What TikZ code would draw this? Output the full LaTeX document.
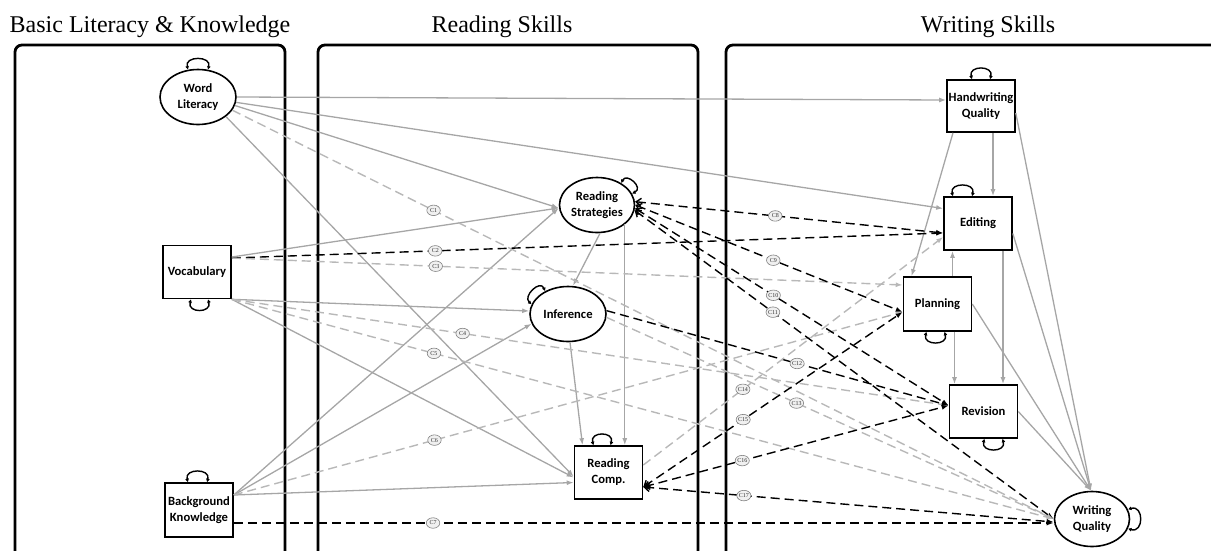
\documentclass[tikz,border=0pt]{standalone}
\usepackage{fontspec}
\setmainfont{Liberation Serif}
\newfontfamily\boxfont{Carlito}
\usetikzlibrary{arrows.meta,shapes.geometric}

\definecolor{pathgray}{RGB}{166,166,166}
\definecolor{dashgray}{RGB}{184,184,184}
\definecolor{tagfill}{RGB}{240,240,240}
\definecolor{tagdraw}{RGB}{130,130,130}

\begin{document}
\begin{tikzpicture}[x=1pt,y=-1pt,
  panel/.style={line width=2.8pt, rounded corners=7pt},
  heading/.style={font=\fontsize{24}{28}\selectfont, anchor=base, inner sep=0pt},
  varbox/.style={draw, line width=1.6pt, fill=white, rectangle, inner sep=0pt, align=center,
    font=\boxfont\bfseries\fontsize{12.6}{16}\selectfont},
  latent/.style={varbox, ellipse, minimum width=76pt, minimum height=55pt},
  observed/.style={varbox, minimum width=68pt, minimum height=53pt},
  effect/.style={draw=pathgray, line width=1.3pt, -{Latex[length=7pt,width=5pt]}},
  weakcov/.style={draw=dashgray, line width=1.4pt, dash pattern=on 9pt off 5pt, -{Latex[length=7pt,width=5pt]}},
  strongcov/.style={draw=black, line width=1.4pt, dash pattern=on 9pt off 5pt, -{Latex[length=7pt,width=5pt]}},
  twoway/.style={strongcov, {Straight Barb[length=5pt,width=8pt]}-{Latex[length=7pt,width=5pt]}},
  selfloop/.style={line width=1.4pt, {Latex[length=3.5pt,width=4pt]}-{Latex[length=3.5pt,width=4pt]}},
  tag/.style={ellipse, draw=tagdraw, fill=tagfill, line width=0.6pt, inner sep=0pt,
    minimum width=13.5pt, minimum height=10.5pt, font=\fontsize{6}{6}\selectfont, text=black!80}
]
\useasboundingbox (0,0) rectangle (1211,550);
\clip (0,0) rectangle (1211,550);

% group frames (open at the bottom)
\draw[panel] (15,556) -- (15,45) -- (285,45) -- (285,556);
\draw[panel] (318,556) -- (318,45) -- (698,45) -- (698,556);
\draw[panel] (726,556) -- (726,45) -- (1220,45);

\node[heading] (t1) at (150,32) {Basic Literacy \& Knowledge};
\node[heading] (t2) at (502,32) {Reading Skills};
\node[heading] (t3) at (988,32) {Writing Skills};

% variables
\node[latent] (wl) at (198,97) {Word\\Literacy};
\node[observed] (voc) at (197,272) {Vocabulary};
\node[observed, minimum height=54pt] (bk) at (199,510) {Background\\Knowledge};
\node[latent, minimum width=75pt] (rs) at (597,205) {Reading\\Strategies};
\node[latent] (inf) at (568,314) {Inference};
\node[observed] (rc) at (608.5,472.5) {Reading\\Comp.};
\node[observed, minimum height=52pt] (hq) at (981,106) {Handwriting\\Quality};
\node[observed] (ed) at (978,223.5) {Editing};
\node[observed, minimum height=54pt] (pl) at (937.5,304) {Planning};
\node[observed] (rv) at (983.5,411.5) {Revision};
\node[latent, minimum width=75pt] (wq) at (1092,519) {Writing\\Quality};

% structural paths
\draw[effect] (wl.east) -- ([yshift=6pt]hq.west);
\draw[effect] (wl.-8) -- ([yshift=15pt]ed.west);
\draw[effect] (wl.-13) -- ([yshift=-3pt]rs.west);
\draw[effect] (wl.-35) -- ([yshift=-4pt]rc.west);
\draw[effect] ([yshift=15pt]voc.east) -- ([yshift=-3pt]rs.west);
\draw[effect] (voc.south east) -- ([yshift=3pt]inf.west);
\draw[effect] (voc.south east) -- ([yshift=-5pt]rc.west);
\draw[effect] ([yshift=15pt]bk.east) -- ([yshift=-3pt]rs.west);
\draw[effect] ([yshift=15pt]bk.east) -- (inf.195);
\draw[effect] ([yshift=15pt]bk.east) -- ([yshift=-10pt]rc.west);
\draw[effect] ([xshift=3pt]rs.south) -- ([xshift=5pt]inf.north);
\draw[effect] (rs.-35) -- (rs.-35 |- rc.north);
\draw[effect] ([xshift=2pt]inf.south) -- ([xshift=-26pt]rc.north);
\draw[effect] ([xshift=12pt]hq.south) -- ([xshift=12pt]hq.south |- ed.north);
\draw[effect] ([xshift=-28pt]hq.south) -- ([xshift=-26pt]pl.north);
\draw[effect] ([yshift=-7pt]hq.east) -- ([xshift=-1pt]wq.north);
\draw[effect] ([xshift=15pt]pl.north) -- ([xshift=15pt]pl.north |- ed.south);
\draw[effect] ([xshift=17pt]pl.south) -- ([xshift=17pt]pl.south |- rv.north);
\draw[effect] ([xshift=25pt]ed.south) -- ([xshift=25pt]ed.south |- rv.north);
\draw[effect] ([yshift=-10pt]ed.east) -- ([xshift=-1pt]wq.north);
\draw[effect] (pl.east) -- ([xshift=-1pt]wq.north);
\draw[effect] (rv.east) -- ([xshift=-1pt]wq.north);

% cross-domain links C1-C17
\draw[weakcov] (wl.-21) -- coordinate[pos=0.245] (c1) (wq.west);
\draw[strongcov] ([yshift=14pt]voc.east) -- coordinate[pos=0.286] (c2) ([yshift=-9.5pt]ed.west);
\draw[weakcov] ([yshift=14pt]voc.east) -- coordinate[pos=0.304] (c3) ([yshift=19pt]pl.west);
\draw[weakcov] (voc.south east) -- coordinate[pos=0.322] (c4) ([yshift=6pt]rv.west);
\draw[weakcov] (voc.south east) -- coordinate[pos=0.246] (c5) (wq.west);
\draw[weakcov] ([yshift=15pt]bk.east) -- coordinate[pos=0.3] (c6) ([yshift=-8pt]pl.west);
\draw[strongcov] ([yshift=-13pt]bk.east) -- coordinate[pos=0.243] (c7) ([yshift=-4pt]wq.west);
\draw[twoway] (rs.5) -- coordinate[pos=0.455] (c8) ([yshift=-9.5pt]ed.west);
\draw[twoway] (rs.0) -- coordinate[pos=0.516] (c9) ([yshift=-8pt]pl.west);
\draw[twoway] (rs.-5) -- coordinate[pos=0.441] (c10) ([yshift=6pt]rv.west);
\draw[twoway] (rs.-8) -- coordinate[pos=0.33] (c11) (wq.west);
\draw[strongcov] (inf.5) -- coordinate[pos=0.557] (c12) ([yshift=6pt]rv.west);
\draw[weakcov] (inf.-5) -- coordinate[pos=0.425] (c13) (wq.west);
\draw[weakcov] ([yshift=7.5pt]rc.east) -- coordinate[pos=0.332] (c14) ([yshift=-13.5pt]ed.west);
\draw[twoway] ([yshift=-14.5pt]rc.east) -- coordinate[pos=0.385] (c15) ([yshift=-8pt]pl.west);
\draw[twoway] ([yshift=-14.5pt]rc.east) -- coordinate[pos=0.324] (c16) ([yshift=6pt]rv.west);
\draw[twoway] ([yshift=-14.5pt]rc.east) -- coordinate[pos=0.245] (c17) ([yshift=-3pt]wq.west);

\foreach \i in {1,...,17} \node[tag] (tag\i) at (c\i) {C\i};

% residual variances
\draw[selfloop] (wl.110) .. controls +(-4,-14) and +(4,-14) .. (wl.70);
\draw[selfloop] ([xshift=-6pt]voc.south) .. controls +(-4,14) and +(4,14) .. ([xshift=11pt]voc.south);
\draw[selfloop] ([xshift=-11pt]bk.north) .. controls +(-4,-14) and +(4,-14) .. ([xshift=8pt]bk.north);
\draw[selfloop] (rs.42) .. controls +(5,-11) and +(12,-6) .. (rs.18);
\draw[selfloop] (inf.165) .. controls +(-9,-8) and +(-5,-12) .. (inf.135);
\draw[selfloop] ([xshift=-15pt]rc.north) .. controls +(-4,-14) and +(4,-14) .. ([xshift=2pt]rc.north);
\draw[selfloop] ([xshift=-9pt]hq.north) .. controls +(-4,-14) and +(4,-14) .. ([xshift=9pt]hq.north);
\draw[selfloop] ([xshift=-25pt]ed.north) .. controls +(-4,-14) and +(4,-14) .. ([xshift=-6pt]ed.north);
\draw[selfloop] ([xshift=-11pt]pl.south) .. controls +(-4,14) and +(4,14) .. ([xshift=7pt]pl.south);
\draw[selfloop] ([xshift=1pt]rv.south) .. controls +(-4,14) and +(4,14) .. ([xshift=19pt]rv.south);
\draw[selfloop] (wq.15) .. controls +(16,-5) and +(16,5) .. (wq.-15);
\end{tikzpicture}
\end{document}
